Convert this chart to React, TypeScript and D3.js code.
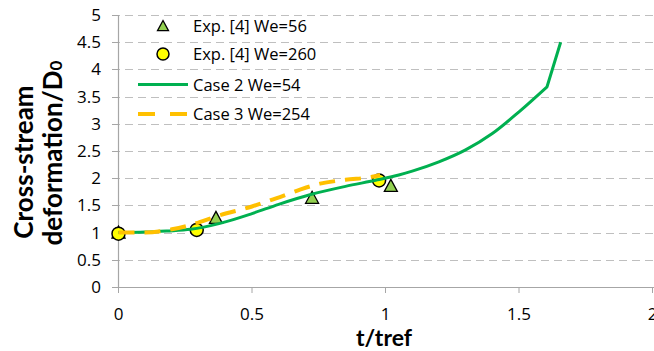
import React from "react";
import * as d3 from "d3";

const xTicks = [0, 0.5, 1, 1.5, 2];
const xTickLabels = ["0", "0.5", "1", "1.5", "2"];
const yTicks = [0, 0.5, 1, 1.5, 2, 2.5, 3, 3.5, 4, 4.5, 5];
const yTickLabels = ["0", "0.5", "1", "1.5", "2", "2.5", "3", "3.5", "4", "4.5", "5"];

const exp56X = [0, 0.365, 0.725, 1.02];
const exp56Y = [1.0, 1.27, 1.64, 1.86];
const exp260X = [0, 0.293, 0.976];
const exp260Y = [0.98, 1.05, 1.96];

const case2X = [0, 0.1, 0.18, 0.27, 0.38, 0.5, 0.6, 0.72, 0.85, 0.97, 1.05, 1.1, 1.2, 1.3, 1.4, 1.5, 1.605];
const case2Y = [1.0, 1.01, 1.03, 1.06, 1.17, 1.35, 1.52, 1.7, 1.85, 1.97, 2.06, 2.13, 2.3, 2.52, 2.82, 3.22, 3.68];
const case2TailX = [1.605, 1.656];
const case2TailY = [3.68, 4.5];

const case3X = [0, 0.1, 0.2, 0.27, 0.38, 0.5, 0.59, 0.68, 0.755, 0.85, 0.955, 0.98];
const case3Y = [1.0, 1.0, 1.06, 1.14, 1.32, 1.48, 1.63, 1.79, 1.9, 1.97, 2.03, 2.06];

const legendLabels = ["Exp. [4] We=56", "Exp. [4] We=260", "Case 2 We=54", "Case 3 We=254"];

const W = 654;
const H = 351;
const FONT = "'Open Sans', sans-serif";
const TITLE_FONT = "Lato, sans-serif";
const GREEN = "#00B050";
const ORANGE = "#FFC000";
const TRI = "#92D050";
const CIRC = "#FFFF00";

export default function App() {
  const x = d3.scaleLinear().domain([0, 2]).range([118.5, 652.5]);
  const y = d3.scaleLinear().domain([0, 5]).range([287, 15]);

  const smooth = d3
    .line<[number, number]>()
    .x((d) => x(d[0]))
    .y((d) => y(d[1]))
    .curve(d3.curveMonotoneX);
  const straight = d3
    .line<[number, number]>()
    .x((d) => x(d[0]))
    .y((d) => y(d[1]));

  const g2: [number, number][] = case2X.map((v, i) => [v, case2Y[i]]);
  const g2t: [number, number][] = case2TailX.map((v, i) => [v, case2TailY[i]]);
  const g3: [number, number][] = case3X.map((v, i) => [v, case3Y[i]]);

  const tri = (cx: number, cy: number, s = 6.5) =>
    `M${cx},${cy - s} L${cx + s},${cy + s * 0.85} L${cx - s},${cy + s * 0.85} Z`;

  const legendY = [26, 54, 84.5, 114];

  return (
    <svg
      width={W}
      height={H}
      style={{ position: "absolute", left: 0, top: 0, background: "#fff" }}
      fontFamily={FONT}
    >
      {yTicks.map((t) =>
        t === 0 ? null : (
          <line
            key={"g" + t}
            x1={112}
            x2={W}
            y1={Math.round(y(t)) + 0.5}
            y2={Math.round(y(t)) + 0.5}
            stroke="#BFBFBF"
            strokeWidth={1.2}
            strokeDasharray="8,5"
          />
        )
      )}
      {yTicks.map((t) => (
        <line key={"yt" + t} x1={112} x2={118.5} y1={Math.round(y(t)) + 0.5} y2={Math.round(y(t)) + 0.5} stroke="#A6A6A6" />
      ))}
      <line x1={x(0)} x2={x(0)} y1={y(5)} y2={y(0)} stroke="#A6A6A6" strokeWidth={1.2} />
      <line x1={x(0)} x2={W} y1={y(0) + 0.5} y2={y(0) + 0.5} stroke="#A6A6A6" strokeWidth={1.2} />
      {xTicks.map((t) => (
        <line key={"xt" + t} x1={x(t)} x2={x(t)} y1={y(0)} y2={y(0) + 6} stroke="#A6A6A6" />
      ))}
      {yTicks.map((t, i) => (
        <text key={"yl" + t} x={101} y={y(t) + 6} textAnchor="end" fontSize={17} fill="#000">
          {yTickLabels[i]}
        </text>
      ))}
      {xTicks.map((t, i) => (
        <text key={"xl" + t} x={x(t)} y={320} textAnchor="middle" fontSize={17} fill="#000">
          {xTickLabels[i]}
        </text>
      ))}
      <text x={384} y={346} textAnchor="middle" fontSize={23} fontWeight="bold" fill="#000" fontFamily={TITLE_FONT}>
        t/tref
      </text>
      <g transform="translate(33,162) rotate(-90)">
        <text x={0} y={0} textAnchor="middle" fontSize={26} fontWeight="bold" fill="#000" fontFamily={TITLE_FONT}>
          Cross-stream
        </text>
      </g>
      <g transform="translate(62,153) rotate(-90)">
        <text x={0} y={0} textAnchor="middle" fontSize={26} fontWeight="bold" fill="#000" fontFamily={TITLE_FONT}>
          deformation/D<tspan fontSize={17}>0</tspan>
        </text>
      </g>
      {exp56X.map((v, i) => (
        <path key={"tr" + i} d={tri(x(v), y(exp56Y[i]))} fill={TRI} stroke="#000" strokeWidth={1.3} />
      ))}
      {exp260X.map((v, i) => (
        <circle key={"c" + i} cx={x(v)} cy={y(exp260Y[i])} r={6.5} fill={CIRC} stroke="#000" strokeWidth={1.5} />
      ))}
      <path d={(smooth(g2) || "") + (straight(g2t) || "").replace("M", "L")} fill="none" stroke={GREEN} strokeWidth={3} strokeLinejoin="round" />
      <path d={smooth(g3) || ""} fill="none" stroke={ORANGE} strokeWidth={4} strokeDasharray="16,10" />
      <path d={tri(163, 26, 5.5)} fill={TRI} stroke="#000" strokeWidth={1.3} />
      <circle cx={163} cy={54} r={6} fill={CIRC} stroke="#000" strokeWidth={1.5} />
      <line x1={138} x2={188} y1={84.5} y2={84.5} stroke={GREEN} strokeWidth={3} />
      <line x1={138} x2={188} y1={114} y2={114} stroke={ORANGE} strokeWidth={4} strokeDasharray="17,15" />
      {legendLabels.map((l, i) => (
        <text key={"lg" + i} x={193} y={legendY[i] + 6} fontSize={16.5} fill="#000">
          {l}
        </text>
      ))}
    </svg>
  );
}
